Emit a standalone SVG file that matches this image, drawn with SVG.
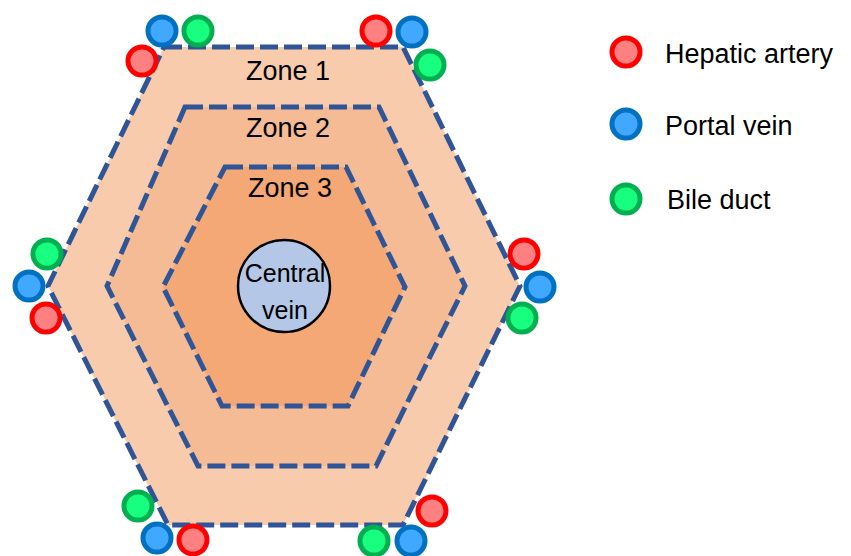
<svg xmlns="http://www.w3.org/2000/svg" width="851" height="556" viewBox="0 0 851 556">
<style>
.hex{stroke:#2F5597;stroke-width:5;stroke-dasharray:18 6;}
.t{font-family:"Liberation Sans",Arial,sans-serif;fill:#000;}
.ha{fill:#FF8080;stroke:#FF0000;stroke-width:5;}
.pv{fill:#40A8FF;stroke:#0070C0;stroke-width:5;}
.bd{fill:#18FF80;stroke:#00B050;stroke-width:5;}
</style>
<rect width="851" height="556" fill="#fff"/>
<g id="zone1">
<polygon class="hex" fill="#F8CBAD" points="164,47 403,47 520,286 403,525 168,525 48,286"/>
<text class="t" x="288" y="80" font-size="27" text-anchor="middle">Zone 1</text>
</g>
<g id="zone2">
<polygon class="hex" fill="#F5BB94" points="185,107 379,107 465,286 376,466 198,466 107,286"/>
<text class="t" x="288" y="137" font-size="27" text-anchor="middle">Zone 2</text>
</g>
<g id="zone3">
<polygon class="hex" fill="#F3A875" points="225,167 346,167 405,287 348,406 222,406 163,287"/>
<text class="t" x="290" y="197" font-size="27" text-anchor="middle">Zone 3</text>
</g>
<g id="central-vein">
<circle cx="284" cy="286" r="46" fill="#B4C7E7" stroke="#000" stroke-width="2.5"/>
<text class="t" x="285" y="282" font-size="25" text-anchor="middle">Central</text>
<text class="t" x="285" y="319" font-size="25" text-anchor="middle">vein</text>
</g>
<g id="vessels">
<circle class="pv" cx="162" cy="31" r="14"/>
<circle class="bd" cx="198" cy="31" r="14"/>
<circle class="ha" cx="142" cy="61" r="14"/>
<circle class="ha" cx="376" cy="31" r="14"/>
<circle class="pv" cx="412" cy="32" r="14"/>
<circle class="bd" cx="430" cy="65" r="14"/>
<circle class="bd" cx="47" cy="254" r="14"/>
<circle class="pv" cx="29" cy="286" r="14"/>
<circle class="ha" cx="46" cy="318" r="14"/>
<circle class="ha" cx="524" cy="254" r="14"/>
<circle class="pv" cx="540" cy="287" r="14"/>
<circle class="bd" cx="522" cy="318" r="14"/>
<circle class="bd" cx="138" cy="506" r="14"/>
<circle class="pv" cx="157" cy="538" r="14"/>
<circle class="ha" cx="193" cy="540" r="14"/>
<circle class="ha" cx="432" cy="511" r="14"/>
<circle class="bd" cx="374" cy="541" r="14"/>
<circle class="pv" cx="411" cy="541" r="14"/>
</g>
<g id="legend">
<circle class="ha" cx="626" cy="52" r="14"/>
<text class="t" x="665" y="63" font-size="27">Hepatic artery</text>
<circle class="pv" cx="626" cy="124" r="14"/>
<text class="t" x="665" y="135" font-size="27">Portal vein</text>
<circle class="bd" cx="626" cy="199" r="14"/>
<text class="t" x="667" y="209" font-size="27">Bile duct</text>
</g>
</svg>
